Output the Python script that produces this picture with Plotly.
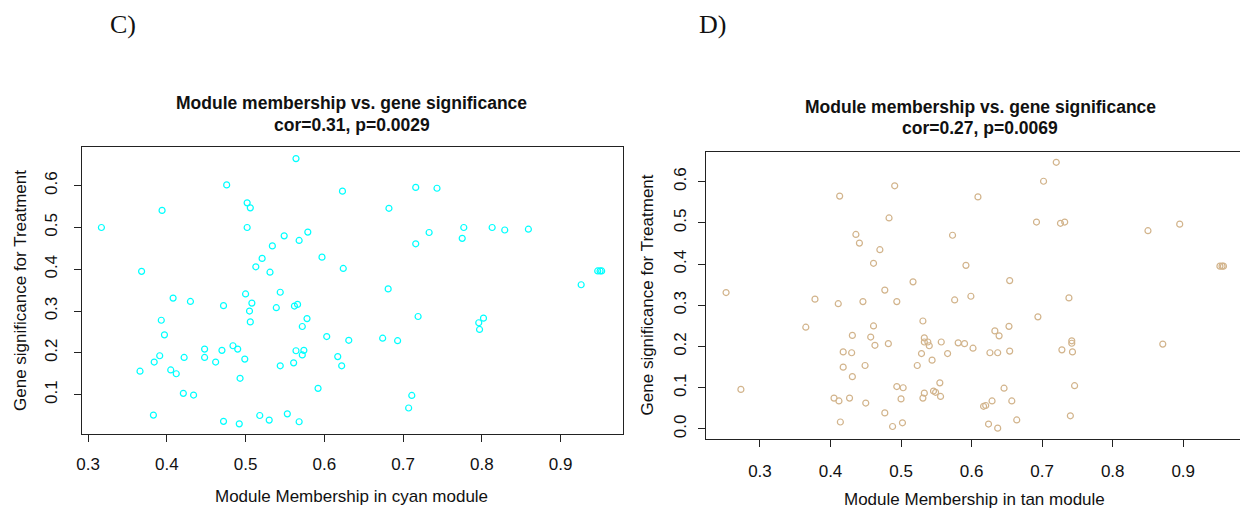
import plotly.graph_objects as go

# ---- Panel C: cyan module ----
cyan_mm = [0.564, 0.476, 0.623, 0.502, 0.506, 0.394, 0.317, 0.502, 0.549, 0.579,
           0.568, 0.534, 0.521, 0.597, 0.513, 0.531, 0.624, 0.368,
           0.716, 0.743, 0.682, 0.777, 0.813, 0.829, 0.859, 0.733, 0.775, 0.716,
           0.947, 0.950, 0.952, 0.926, 0.681,
           0.719, 0.796, 0.802, 0.797, 0.674, 0.693, 0.711, 0.707,
           0.408, 0.430, 0.472, 0.500, 0.508, 0.505, 0.506, 0.544, 0.539, 0.562,
           0.566, 0.578, 0.572, 0.393, 0.397, 0.603, 0.631, 0.617, 0.622,
           0.448, 0.470, 0.484, 0.490, 0.564, 0.574, 0.572, 0.561, 0.544, 0.499,
           0.462, 0.448, 0.422, 0.391, 0.384, 0.366, 0.405, 0.412, 0.493, 0.421,
           0.434, 0.592, 0.383, 0.472, 0.492, 0.518, 0.530, 0.553, 0.568]
cyan_gs = [0.665, 0.602, 0.587, 0.559, 0.547, 0.541, 0.500, 0.500, 0.480, 0.489,
           0.469, 0.456, 0.426, 0.429, 0.406, 0.393, 0.402, 0.395,
           0.596, 0.594, 0.546, 0.500, 0.500, 0.494, 0.496, 0.488, 0.474, 0.461,
           0.396, 0.396, 0.396, 0.363, 0.353,
           0.287, 0.272, 0.283, 0.256, 0.235, 0.229, 0.098, 0.068,
           0.331, 0.323, 0.313, 0.341, 0.319, 0.300, 0.274, 0.345, 0.308, 0.312,
           0.316, 0.282, 0.263, 0.278, 0.243, 0.239, 0.230, 0.191, 0.169,
           0.209, 0.206, 0.217, 0.209, 0.205, 0.206, 0.195, 0.176, 0.169, 0.185,
           0.178, 0.189, 0.189, 0.193, 0.178, 0.156, 0.159, 0.150, 0.139, 0.103,
           0.099, 0.115, 0.051, 0.036, 0.030, 0.050, 0.039, 0.054, 0.035]

# ---- Panel D: tan module ----
tan_mm = [0.491, 0.413, 0.483, 0.436, 0.441, 0.573, 0.470, 0.461, 0.592, 0.517,
          0.477, 0.252, 0.599,
          0.378, 0.411, 0.446, 0.494, 0.576, 0.531, 0.365, 0.461, 0.431, 0.457,
          0.463, 0.482, 0.533, 0.533, 0.538, 0.540, 0.557, 0.581, 0.590, 0.602,
          0.418, 0.430, 0.529, 0.566, 0.544, 0.418, 0.449, 0.523, 0.431, 0.555,
          0.273, 0.494, 0.503, 0.533, 0.546, 0.549, 0.556, 0.531, 0.500, 0.405,
          0.412, 0.427, 0.450, 0.477, 0.414, 0.488, 0.502,
          0.720, 0.702, 0.609, 0.692, 0.726, 0.732, 0.850, 0.895, 0.654,
          0.952, 0.955, 0.957, 0.738,
          0.694, 0.653, 0.633, 0.639, 0.626, 0.637, 0.654, 0.742, 0.742, 0.728,
          0.743, 0.871, 0.646, 0.746, 0.629, 0.657, 0.617, 0.620, 0.740, 0.624,
          0.637, 0.664]
tan_gs = [0.590, 0.565, 0.512, 0.472, 0.451, 0.470, 0.435, 0.402, 0.397, 0.357,
          0.337, 0.331, 0.322,
          0.315, 0.304, 0.309, 0.309, 0.313, 0.262, 0.247, 0.250, 0.227, 0.223,
          0.203, 0.207, 0.221, 0.211, 0.211, 0.202, 0.211, 0.209, 0.207, 0.196,
          0.187, 0.185, 0.183, 0.183, 0.167, 0.150, 0.154, 0.154, 0.127, 0.112,
          0.096, 0.103, 0.100, 0.087, 0.092, 0.089, 0.079, 0.075, 0.073, 0.075,
          0.068, 0.075, 0.063, 0.039, 0.017, 0.006, 0.015,
          0.647, 0.601, 0.563, 0.502, 0.499, 0.502, 0.481, 0.497, 0.360,
          0.395, 0.395, 0.395, 0.318,
          0.272, 0.249, 0.238, 0.226, 0.185, 0.185, 0.189, 0.214, 0.208, 0.192,
          0.187, 0.206, 0.099, 0.105, 0.068, 0.068, 0.055, 0.057, 0.032, 0.012,
          0.002, 0.022]

x_ticks = [0.3, 0.4, 0.5, 0.6, 0.7, 0.8, 0.9]
y_ticks_c = [0.1, 0.2, 0.3, 0.4, 0.5, 0.6]
y_ticks_d = [0.0, 0.1, 0.2, 0.3, 0.4, 0.5, 0.6]

FONT = "Liberation Sans, Arial, sans-serif"

fig = go.Figure()
fig.add_trace(go.Scatter(x=cyan_mm, y=cyan_gs, mode="markers", xaxis="x", yaxis="y",
                         marker=dict(symbol="circle-open", size=6, color="#00FFFF",
                                     line=dict(width=1.2, color="#00FFFF")),
                         showlegend=False, hoverinfo="x+y"))
fig.add_trace(go.Scatter(x=tan_mm, y=tan_gs, mode="markers", xaxis="x2", yaxis="y2",
                         marker=dict(symbol="circle-open", size=6, color="#D2B48C",
                                     line=dict(width=1.2, color="#D2B48C")),
                         showlegend=False, hoverinfo="x+y"))

# the page places the figure slightly inset; compensate
OFFX, OFFY = 13, 8
W, H = 1248 - OFFX, 512 - OFFY
def px_x(p): return (p - OFFX) / W
def px_y(p): return 1 - (p - OFFY) / H

axis_common = dict(showgrid=False, zeroline=False, showline=True, mirror=True,
                   linecolor="#222222", linewidth=1, ticks="outside", ticklen=7,
                   tickcolor="#222222", tickwidth=1,
                   tickfont=dict(family=FONT, size=17, color="#111111"))

fig.update_layout(
    width=W, height=H, margin=dict(l=0, r=0, t=0, b=0),
    paper_bgcolor="white", plot_bgcolor="white",
    xaxis=dict(domain=[px_x(82), px_x(625)], range=[0.292, 0.9785],
               tickvals=x_ticks, tickformat=".1f", anchor="y",
               ticklabelstandoff=7, **axis_common),
    yaxis=dict(domain=[px_y(434.3), px_y(147.3)], range=[0.005, 0.692],
               tickvals=y_ticks_c, tickformat=".1f", tickangle=-90, anchor="x",
               ticklabelstandoff=10, **axis_common),
    xaxis2=dict(domain=[px_x(709), px_x(1247)], range=[0.2238, 0.9833],
                tickvals=x_ticks, tickformat=".1f", anchor="y2",
                ticklabelstandoff=9, **axis_common),
    yaxis2=dict(domain=[px_y(439.3), px_y(151.7)], range=[-0.025, 0.6727],
                tickvals=y_ticks_d, tickformat=".1f", tickangle=-90, anchor="x2",
                ticklabelstandoff=5, **axis_common),
)

ann = []
def add_text(text, x, y, size, family=FONT, bold=False, angle=0, color="#111111"):
    if bold:
        text = "<b>" + text + "</b>"
    ann.append(dict(text=text, x=px_x(x), y=px_y(y), xref="paper", yref="paper",
                    showarrow=False, xanchor="center", yanchor="middle",
                    textangle=angle, font=dict(family=family, size=size, color=color)))

add_text("C)", 123, 24, 26, family="Liberation Serif, Times New Roman, serif")
add_text("D)", 715, 24, 26, family="Liberation Serif, Times New Roman, serif")
add_text("Module membership vs. gene significance", 353, 103, 17.5, bold=True)
add_text("cor=0.31, p=0.0029", 353, 125, 17.5, bold=True)
add_text("Module membership vs. gene significance", 984, 107, 17.5, bold=True)
add_text("cor=0.27, p=0.0069", 984, 128, 17.5, bold=True)
add_text("Module Membership in cyan module", 353, 496, 17)
add_text("Module Membership in tan module", 978, 499, 17)
add_text("Gene significance for Treatment", 20, 290, 17, angle=-90)
add_text("Gene significance for Treatment", 650, 295, 17, angle=-90)
fig.update_layout(annotations=ann)

fig.write_html("out.html")
